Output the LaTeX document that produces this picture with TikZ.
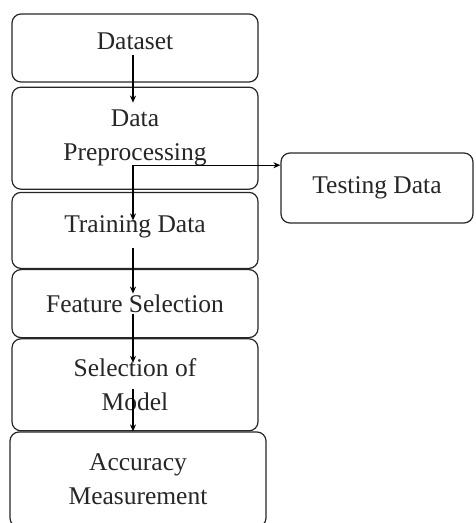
\documentclass[tikz,border=0pt]{standalone}
\usepackage{fontspec}
\setmainfont{Liberation Serif}
\usetikzlibrary{positioning,arrows.meta}

\begin{document}
\begin{tikzpicture}[x=1pt,y=-1pt,>={Stealth[length=7pt,width=6pt]},node distance=0pt,
  box/.style={draw=black!85,line width=1.2pt,rounded corners=9pt,minimum width=246pt,
    align=center,text=black!85,font=\fontsize{25.5}{34}\selectfont},
  flow/.style={->,line width=1.3pt}]
  \useasboundingbox (0,0) rectangle (475,523);

  % Blocchi
  \node[box,minimum height=68pt,text depth=14pt] (dataset) at (135,48) {Dataset};
  \node[box,minimum height=102pt,below=4pt of dataset] (prep) {Data\\Preprocessing};
  \node[box,minimum height=76pt,below=2pt of prep,text depth=12pt] (train) {Training Data};
  \node[box,minimum height=68pt,below=of train] (feat) {Feature Selection};
  \node[box,minimum height=92pt,below=of feat] (model) {Selection of\\Model};
  \node[box,minimum width=256pt,minimum height=95pt,below=of model,xshift=3pt] (acc) {Accuracy\\Measurement};
  \node[box,minimum width=192pt,minimum height=70pt] (test) at (377,188) {Testing Data};

  % Frecce
  \coordinate (split) at ([xshift=-2pt,yshift=-27pt]prep.center);
  \draw[flow] ([xshift=-2pt,yshift=-7pt]dataset.center) -- ([xshift=-2pt,yshift=-16pt]prep.north);
  \draw[flow] (split) -- ([xshift=-2pt,yshift=10pt]train.center);
  \draw[flow] (split) -- (split -| test.west);
  \draw[flow] ([xshift=-2pt,yshift=-18pt]train.center) -- ([xshift=-2pt,yshift=10pt]feat.center);
  \draw[flow] ([xshift=-2pt,yshift=-10pt]feat.center) -- ([xshift=-2pt,yshift=22pt]model.center);
  \draw[flow] ([xshift=-2pt,yshift=-4pt]model.center) -- (acc.north -| split);

\end{tikzpicture}
\end{document}
